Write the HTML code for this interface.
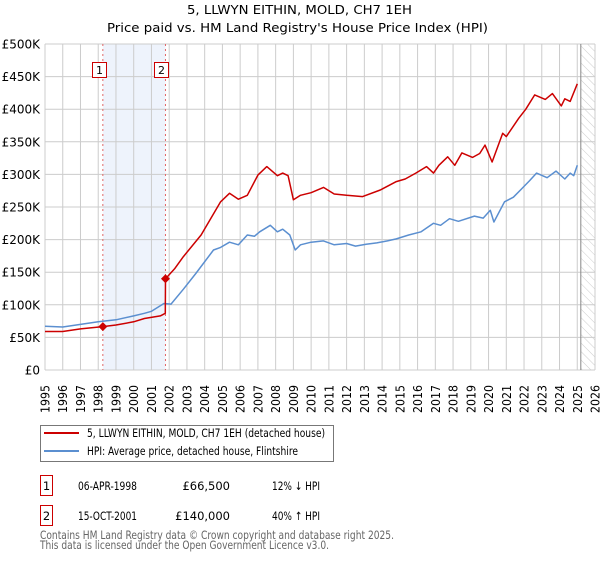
<!DOCTYPE html>
<html><head><meta charset="utf-8"><style>
body{margin:0;background:#fff;font-family:"DejaVu Sans","Liberation Sans",sans-serif}
svg text{font-family:"DejaVu Sans","Liberation Sans",sans-serif}
</style></head><body>
<svg id="chart" width="600" height="560" xmlns="http://www.w3.org/2000/svg">
<defs><pattern id="hatch" width="6" height="6" patternUnits="userSpaceOnUse" patternTransform="rotate(-45)"><line x1="0" y1="0" x2="0" y2="6" stroke="#ccc" stroke-width="1"/></pattern></defs>
<text x="299.5" y="14" text-anchor="middle" font-size="12.5" textLength="225" lengthAdjust="spacingAndGlyphs">5, LLWYN EITHIN, MOLD, CH7 1EH</text>
<text x="297.5" y="32" text-anchor="middle" font-size="12.5" textLength="381" lengthAdjust="spacingAndGlyphs">Price paid vs. HM Land Registry's House Price Index (HPI)</text>
<g id="grid"></g><g id="marks"></g><g id="axes"></g>
<g>
<rect x="40.5" y="425.5" width="293" height="36" fill="#fff" stroke="#777"/>
<line x1="44" y1="433" x2="79" y2="433" stroke="#cc0000" stroke-width="2"/>
<text x="87" y="437" font-size="11.5" textLength="238" lengthAdjust="spacingAndGlyphs">5, LLWYN EITHIN, MOLD, CH7 1EH (detached house)</text>
<line x1="44" y1="451" x2="79" y2="451" stroke="#5b8fd0" stroke-width="2"/>
<text x="87" y="455" font-size="11.5" textLength="211" lengthAdjust="spacingAndGlyphs">HPI: Average price, detached house, Flintshire</text>
</g>
<g font-size="11.5">
<rect x="40.5" y="475.5" width="12" height="20" fill="#fff" stroke="#c00"/><text x="46.5" y="490" text-anchor="middle">1</text>
<text x="78" y="490" textLength="59" lengthAdjust="spacingAndGlyphs">06-APR-1998</text><text x="230" y="490" text-anchor="end">£66,500</text><text x="272" y="490" textLength="48" lengthAdjust="spacingAndGlyphs">12% ↓ HPI</text>
<rect x="40.5" y="505.5" width="12" height="20" fill="#fff" stroke="#c00"/><text x="46.5" y="520" text-anchor="middle">2</text>
<text x="78" y="520" textLength="59" lengthAdjust="spacingAndGlyphs">15-OCT-2001</text><text x="230" y="520" text-anchor="end">£140,000</text><text x="272" y="520" textLength="48" lengthAdjust="spacingAndGlyphs">40% ↑ HPI</text>
</g>
<text x="40" y="539" font-size="11.5" fill="#666" textLength="354" lengthAdjust="spacingAndGlyphs">Contains HM Land Registry data © Crown copyright and database right 2025.</text>
<text x="40" y="549" font-size="11.5" fill="#666" textLength="289" lengthAdjust="spacingAndGlyphs">This data is licensed under the Open Government Licence v3.0.</text>
</svg>
<script>
const yTicks=[0,50,100,150,200,250,300,350,400,450,500];
const yTickLabels=["£0","£50K","£100K","£150K","£200K","£250K","£300K","£350K","£400K","£450K","£500K"];
const years=[1995,1996,1997,1998,1999,2000,2001,2002,2003,2004,2005,2006,2007,2008,2009,2010,2011,2012,2013,2014,2015,2016,2017,2018,2019,2020,2021,2022,2023,2024,2025,2026];
const hpiT=[1995,1996,1997,1998,1999,2000,2000.6,2001,2001.7,2002.1,2002.8,2003.5,2004.5,2004.9,2005.4,2005.9,2006.4,2006.8,2007.1,2007.7,2008.1,2008.4,2008.8,2009.1,2009.4,2010,2010.7,2011.3,2012,2012.5,2013.1,2013.7,2014.3,2014.8,2015.5,2016.2,2016.9,2017.3,2017.8,2018.3,2019.2,2019.7,2020.1,2020.3,2020.9,2021.4,2021.8,2022.3,2022.7,2023.3,2023.8,2024.3,2024.6,2024.8,2025.0];
const hpiV=[67,66,70,74,77,83,87,90,102,101,124,148,184,188,196,192,207,205,212,222,212,216,207,184,192,196,198,192,194,190,193,195,198,201,207,212,225,222,232,228,236,233,245,227,258,265,276,290,302,295,305,293,302,298,314];
const propT=[1995,1996,1997,1998.26,1999,2000,2000.6,2001.5,2001.78,2001.79,2002.3,2002.8,2003.8,2004.9,2005.4,2005.9,2006.4,2007.0,2007.5,2008.1,2008.4,2008.7,2009.0,2009.4,2010,2010.7,2011.3,2012,2012.9,2013.9,2014.8,2015.3,2015.9,2016.5,2016.9,2017.2,2017.7,2018.1,2018.5,2019.1,2019.5,2019.8,2020.2,2020.8,2021.0,2021.7,2022.1,2022.6,2023.2,2023.6,2024.1,2024.3,2024.6,2025.0];
const propV=[59,59,63,66.5,69,74,79,83,87,140,155,174,207,258,271,262,268,299,312,298,302,298,261,268,272,280,270,268,266,276,289,293,302,312,302,314,327,314,333,326,332,345,319,363,358,386,400,422,415,424,405,416,412,439];
const saleT=[1998.26,2001.79];
const saleV=[66.5,140];
const X0=45,X1=595,Y0=370,Y1=44;
const xs=t=>X0+(t-1995)/31*(X1-X0);
const ys=v=>Y0-v/500*(Y0-Y1);
const NS="http://www.w3.org/2000/svg";
function mk(p,tag,a){const e=document.createElementNS(NS,tag);for(const k in a)e.setAttribute(k,a[k]);p.appendChild(e);return e;}
const grid=document.getElementById('grid'),marks=document.getElementById('marks'),axes=document.getElementById('axes');
const shade=mk(grid,'rect',{x:xs(saleT[0]),y:Y1,width:xs(saleT[1])-xs(saleT[0]),height:Y0-Y1,fill:'#eef3fc'});


const hat=mk(grid,'rect',{x:xs(2025.2),y:Y1,width:X1-xs(2025.2),height:Y0-Y1,fill:'url(#hatch)'});


years.forEach(y=>{const l=mk(grid,'line',{x1:xs(y),x2:xs(y),y1:Y1,y2:Y0,stroke:'#ccc','stroke-width':1});


const t=mk(axes,'text',{transform:`translate(${xs(y)+4.5},${Y0+43}) rotate(-90)`,'font-size':12,textLength:28,lengthAdjust:'spacingAndGlyphs'});t.textContent=y;

});
yTicks.forEach((v,i)=>{const l=mk(grid,'line',{x1:X0,x2:X1,y1:ys(v),y2:ys(v),stroke:'#ccc','stroke-width':1});


const t=mk(axes,'text',{x:40,y:ys(v)+4.5,'text-anchor':'end','font-size':12});t.textContent=yTickLabels[i];

});
const vl=mk(grid,'line',{x1:xs(2025.2),x2:xs(2025.2),y1:Y1,y2:Y0,stroke:'#888','stroke-width':1});


saleT.forEach((t,i)=>{const l=mk(marks,'line',{x1:xs(t),x2:xs(t),y1:Y1,y2:Y0,stroke:'#e06666','stroke-width':1,'stroke-dasharray':'2,3'});


const bx=xs(t)-11;
const r=mk(marks,'rect',{x:Math.round(bx)+0.5,y:62.5,width:14,height:15,fill:'#fff',stroke:'#c00'});


const tx=mk(marks,'text',{x:Math.round(bx)+7.5,y:74,'text-anchor':'middle','font-size':11});tx.textContent=i+1;

});
function path(T,V){return T.map((t,i)=>(i?'L':'M')+xs(t).toFixed(1)+','+ys(V[i]).toFixed(1)).join('');}
const hp=mk(marks,'path',{d:path(hpiT,hpiV),fill:'none',stroke:'#5b8fd0','stroke-width':1.5,'stroke-linejoin':'round'});


const pp=mk(marks,'path',{d:path(propT,propV),fill:'none',stroke:'#cc0000','stroke-width':1.5,'stroke-linejoin':'round'});


saleT.forEach((t,i)=>{const x=xs(t),y=ys(saleV[i]);const d=mk(marks,'path',{d:`M${x},${y-4.5}L${x+4.5},${y}L${x},${y+4.5}L${x-4.5},${y}Z`,fill:'#cc0000'});

});
</script>
</body></html>
